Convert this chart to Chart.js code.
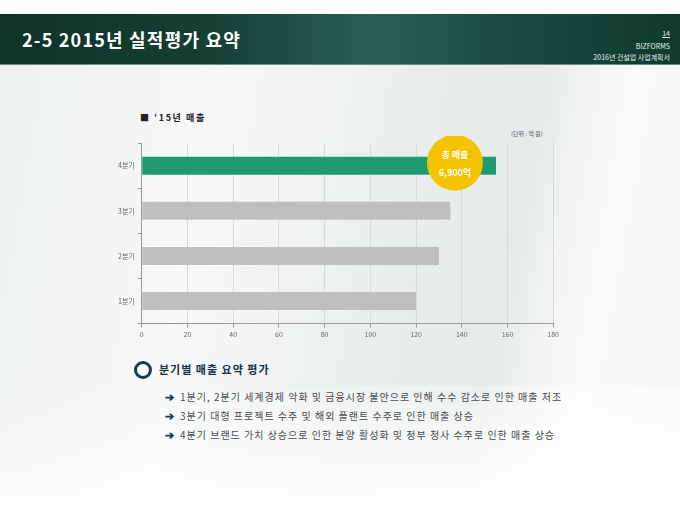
<!DOCTYPE html>
<html>
<head>
<meta charset="utf-8">
<script src="https://cdn.jsdelivr.net/npm/chart.js@4"></script>
<style>
  html, body { margin: 0; padding: 0; background: #fff; }
  body { width: 680px; height: 510px; position: relative; overflow: hidden;
         font-family: "Noto Sans CJK KR", "Noto Sans", sans-serif; }
  #slide { position: absolute; left: 0; top: 14px; width: 680px; height: 482px;
           background: linear-gradient(100deg, #eceff0 0%, #f7f8f8 30%, #ebeeef 55%, #e6eaeb 72%, #fbfbfb 84%, #f4f6f6 100%); }
  #slide:after { content: ""; position: absolute; left: 0; right: 0; bottom: 0; height: 110px;
           background: linear-gradient(175deg, rgba(255,255,255,0) 0%, rgba(255,255,255,0.7) 60%, #fff 100%); }
  #header { position: absolute; left: 0; top: 14px; width: 680px; height: 50px;
            background: linear-gradient(90deg, #0e3327 0%, #143f33 30%, #2b5e55 55%, #1a4a3f 75%, #0f3a2c 100%);
            border-bottom: 1px solid #6f8f86; }
  #title { position: absolute; left: 22px; top: 26px; color: #fff; font-size: 18px; font-weight: bold; letter-spacing: 1.2px; }
  .meta { position: absolute; right: 10px; color: #e8eeec; font-size: 7px; text-align: right; }
  #chartBox { position: absolute; left: 100px; top: 136px; width: 462px; height: 206px; }
  #chartTitle { position: absolute; left: 140px; top: 111px; font-size: 9px; font-weight: bold; color: #222; letter-spacing: 1.6px; }
  #unit { position: absolute; left: 511px; top: 129px; font-size: 6px; color: #555; }
  #secIcon { position: absolute; left: 134px; top: 361px; width: 12px; height: 12px; border-radius: 50%;
             border: 3px solid #1c3a4c; background: #fff; }
  #secTitle { position: absolute; left: 159px; top: 361px; font-size: 11px; font-weight: bold; color: #1c2f3c; letter-spacing: 1px; }
  .bullet { position: absolute; left: 165px; font-size: 10px; color: #4a4a4a; letter-spacing: 1px; white-space: nowrap; }
  .bullet b { color: #1c3a4c; margin-right: 6px; font-size: 11px; font-weight: bold; letter-spacing: 0; }
</style>
</head>
<body>
<div id="slide"></div>
<div id="header"></div>
<div id="title">2-5 2015년 실적평가 요약</div>
<div class="meta" style="top:28px; text-decoration: underline;">14</div>
<div class="meta" style="top:41px;">BIZFORMS</div>
<div class="meta" style="top:52px;">2016년 건설업 사업계획서</div>

<div id="chartTitle">■ ‘15년 매출</div>
<div id="unit">(단위 : 억 원)</div>
<div id="chartBox"><canvas id="salesChart"></canvas></div>

<div id="secIcon"></div>
<div id="secTitle">분기별 매출 요약 평가</div>
<div class="bullet" style="top:388px;"><b>➔</b>1분기, 2분기 세계경제 악화 및 금융시장 불안으로 인해 수수 감소로 인한 매출 저조</div>
<div class="bullet" style="top:407px;"><b>➔</b>3분기 대형 프로젝트 수주 및 해외 플랜트 수주로 인한 매출 상승</div>
<div class="bullet" style="top:426px;"><b>➔</b>4분기 브랜드 가치 상승으로 인한 분양 활성화 및 정부 청사 수주로 인한 매출 상승</div>

<script>
  const quarters = ['4분기', '3분기', '2분기', '1분기'];
  const sales = [155, 135, 130, 120];
  const barColors = ['#219a73', '#bfbfbf', '#bfbfbf', '#bfbfbf'];
  const totalLabel = ['총 매출', '6,900억'];
  const badgeValue = 137;

  // yellow badge anchored on the 4분기 bar
  const totalBadge = {
    id: 'totalBadge',
    afterDatasetsDraw(chart) {
      const ctx = chart.ctx;
      const x = chart.scales.x.getPixelForValue(badgeValue);
      const y = chart.scales.y.getPixelForValue(0) - 3;
      ctx.save();
      ctx.beginPath();
      ctx.arc(x, y, 28, 0, Math.PI * 2);
      ctx.fillStyle = '#f5c300';
      ctx.fill();
      ctx.fillStyle = '#fff';
      ctx.textAlign = 'center';
      ctx.textBaseline = 'middle';
      ctx.font = 'bold 9px "Noto Sans CJK KR"';
      ctx.fillText(totalLabel[0], x, y - 8);
      ctx.fillText(totalLabel[1], x, y + 10);
      ctx.restore();
    }
  };

  new Chart(document.getElementById('salesChart'), {
    type: 'bar',
    data: {
      labels: quarters,
      datasets: [{
        data: sales,
        backgroundColor: barColors,
        barPercentage: 0.4,
        categoryPercentage: 1
      }]
    },
    options: {
      indexAxis: 'y',
      responsive: true,
      maintainAspectRatio: false,
      animation: false,
      layout: { padding: { top: 6, right: 8, left: 15 } },
      plugins: { legend: { display: false }, tooltip: { enabled: false } },
      scales: {
        x: {
          min: 0, max: 180,
          ticks: { stepSize: 20, color: '#666', font: { size: 7, family: 'Noto Sans CJK KR' } },
          grid: { color: '#d9d9d9', tickLength: 4, tickColor: '#999' },
          border: { color: '#999' }
        },
        y: {
          ticks: { color: '#666', font: { size: 7, family: 'Noto Sans CJK KR' } },
          grid: { display: true, drawOnChartArea: false, tickLength: 4, tickColor: '#999' },
          border: { color: '#999' }
        }
      }
    },
    plugins: [totalBadge]
  });
</script>
</body>
</html>
